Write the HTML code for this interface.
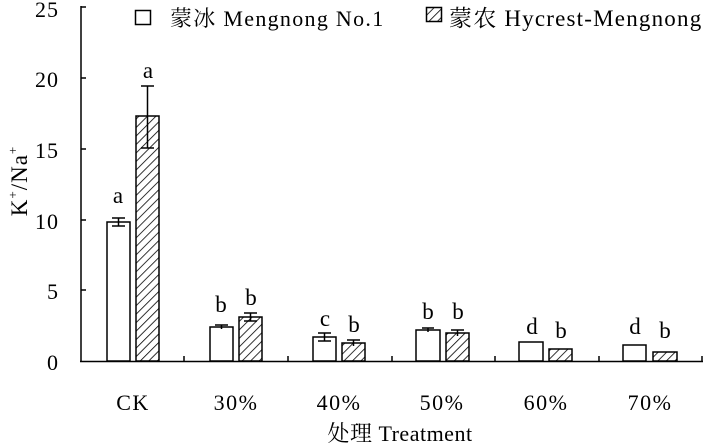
<!DOCTYPE html>
<html><head><meta charset="utf-8"><style>
body{margin:0;background:#fff;}
svg{display:block;font-family:"Liberation Serif","Noto Serif CJK SC",serif;}
</style></head><body>
<svg width="709" height="444" viewBox="0 0 709 444">
<defs>
<pattern id="h" patternUnits="userSpaceOnUse" width="6" height="6" patternTransform="rotate(45)">
<rect width="6" height="6" fill="#fff"/><line x1="0" y1="0" x2="0" y2="6" stroke="#000" stroke-width="1.6"/>
</pattern>
</defs>
<g stroke="#000" stroke-width="1.5" fill="none">
<line x1="81" y1="6" x2="81" y2="362"/>
<line x1="80" y1="361.5" x2="703" y2="361.5"/>
<line x1="81" y1="7" x2="86" y2="7"/>
<line x1="81" y1="78" x2="86" y2="78"/>
<line x1="81" y1="149" x2="86" y2="149"/>
<line x1="81" y1="220" x2="86" y2="220"/>
<line x1="81" y1="290" x2="86" y2="290"/>
<line x1="184" y1="356" x2="184" y2="361"/>
<line x1="288" y1="356" x2="288" y2="361"/>
<line x1="392" y1="356" x2="392" y2="361"/>
<line x1="495" y1="356" x2="495" y2="361"/>
<line x1="599" y1="356" x2="599" y2="361"/>
<line x1="702" y1="356" x2="702" y2="361"/>
</g>
<g font-size="22" text-anchor="end" fill="#000" letter-spacing="1">
<text x="59" y="17">25</text><text x="59" y="87">20</text><text x="59" y="158">15</text>
<text x="59" y="229">10</text><text x="59" y="299">5</text><text x="59" y="370">0</text>
</g>
<text transform="translate(27,181) rotate(-90)" font-size="23" text-anchor="middle" letter-spacing="1">K<tspan font-size="13" dy="-10">+</tspan><tspan dy="10">/Na</tspan><tspan font-size="13" dy="-10">+</tspan></text>
<g stroke="#000" stroke-width="1.5">
<rect x="107" y="222" width="23" height="139" fill="#fff"/>
<rect x="136" y="116" width="23" height="245" fill="url(#h)"/>
<rect x="210" y="327" width="23" height="34" fill="#fff"/>
<rect x="239" y="317" width="23" height="44" fill="url(#h)"/>
<rect x="313" y="337" width="23" height="24" fill="#fff"/>
<rect x="342" y="343" width="23" height="18" fill="url(#h)"/>
<rect x="416" y="330" width="24" height="31" fill="#fff"/>
<rect x="446" y="333" width="23" height="28" fill="url(#h)"/>
<rect x="519" y="342" width="24" height="19" fill="#fff"/>
<rect x="549" y="349" width="23" height="12" fill="url(#h)"/>
<rect x="623" y="345" width="23" height="16" fill="#fff"/>
<rect x="653" y="352" width="24" height="9" fill="url(#h)"/>
</g>
<g stroke="#000" stroke-width="1.5">
<path d="M118.5 218V226M112 218H125M112 226H125"/>
<path d="M147.5 86V148M141 86H154M141 148H154"/>
<path d="M221.5 325V329M215 325H228"/>
<path d="M250.5 313V321M244 313H257M244 321H257"/>
<path d="M324.5 333V341M318 333H331M318 341H331"/>
<path d="M353.5 340V346M347 340H360"/>
<path d="M428 328V332M422 328H434"/>
<path d="M457.5 330V336M451 330H464"/>
</g>
<g font-size="23" text-anchor="middle">
<text x="118" y="203">a</text><text x="148" y="78">a</text>
<text x="221" y="312">b</text><text x="251" y="305">b</text>
<text x="325" y="326">c</text><text x="354" y="332">b</text>
<text x="428" y="319">b</text><text x="458" y="319">b</text>
<text x="532" y="334">d</text><text x="561" y="338">b</text>
<text x="635" y="334">d</text><text x="665" y="338">b</text>
</g>
<g font-size="22" text-anchor="middle" letter-spacing="1.5">
<text x="133" y="410">CK</text><text x="236" y="410">30%</text><text x="339" y="410">40%</text>
<text x="442" y="410">50%</text><text x="546" y="410">60%</text><text x="650" y="410">70%</text>
<text x="400" y="441" letter-spacing="0.5">处理 Treatment</text>
</g>
<rect x="135.5" y="10.5" width="15" height="14" fill="#fff" stroke="#000" stroke-width="1.5"/>
<text x="170" y="26" font-size="22" letter-spacing="1.3">蒙冰 Mengnong No.1</text>
<rect x="426.5" y="7.5" width="15" height="14" fill="url(#h)" stroke="#000" stroke-width="1.5"/>
<text x="449" y="26" font-size="23" letter-spacing="1.2">蒙农 Hycrest-Mengnong</text>
</svg>
</body></html>
